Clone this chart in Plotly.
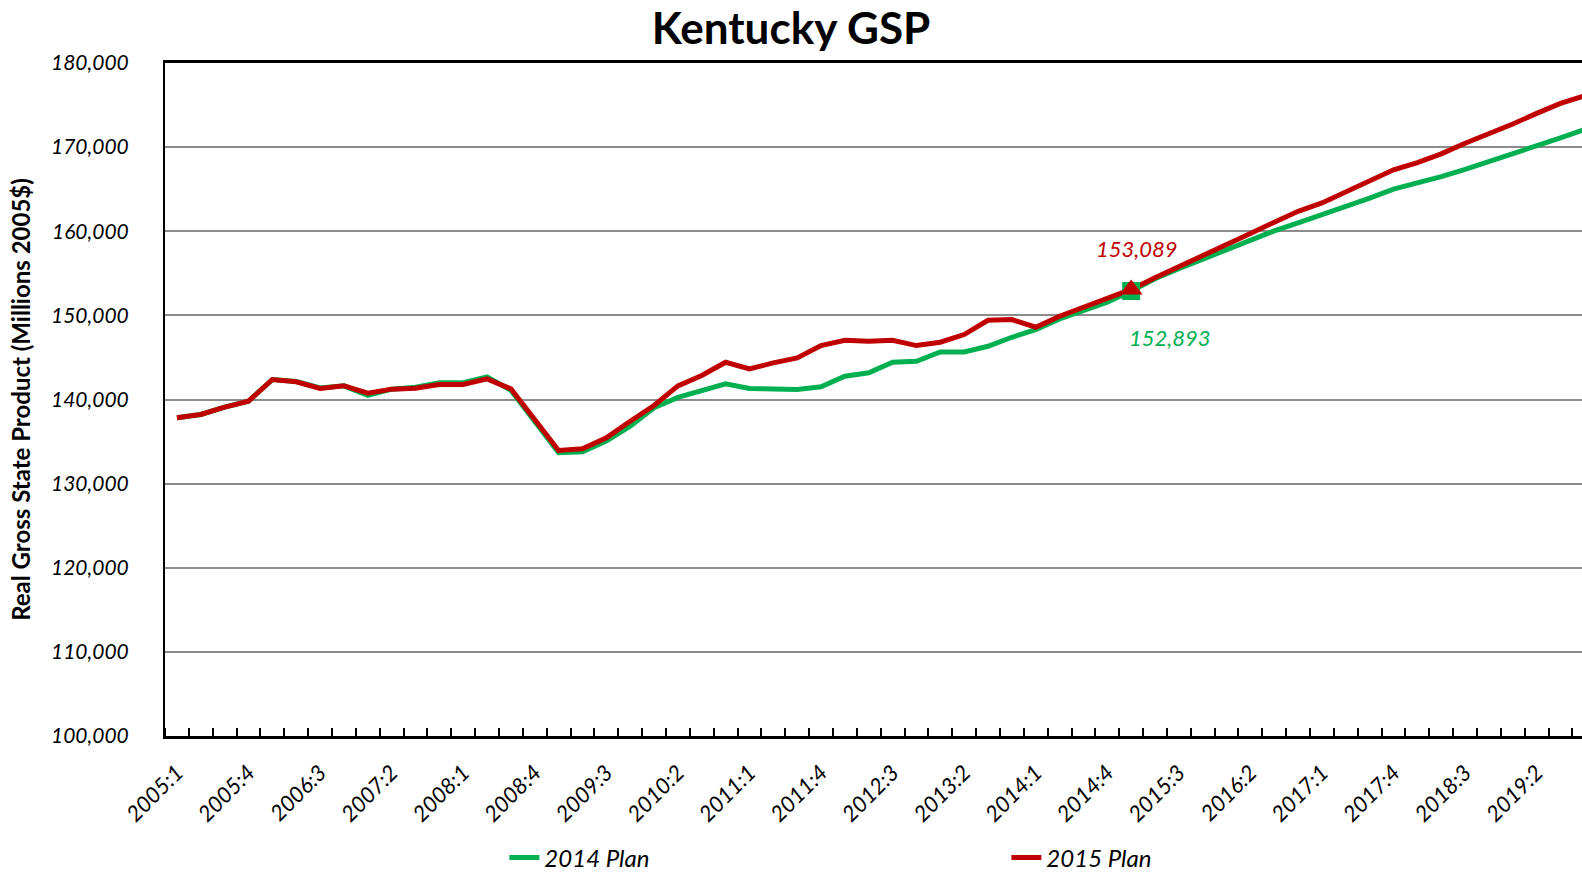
import plotly.graph_objects as go

# Quarterly periods, 2005:1 through 2019:4
quarters = [
    "2005:1", "2005:2", "2005:3", "2005:4", "2006:1", "2006:2", "2006:3", "2006:4",
    "2007:1", "2007:2", "2007:3", "2007:4", "2008:1", "2008:2", "2008:3", "2008:4",
    "2009:1", "2009:2", "2009:3", "2009:4", "2010:1", "2010:2", "2010:3", "2010:4",
    "2011:1", "2011:2", "2011:3", "2011:4", "2012:1", "2012:2", "2012:3", "2012:4",
    "2013:1", "2013:2", "2013:3", "2013:4", "2014:1", "2014:2", "2014:3", "2014:4",
    "2015:1", "2015:2", "2015:3", "2015:4", "2016:1", "2016:2", "2016:3", "2016:4",
    "2017:1", "2017:2", "2017:3", "2017:4", "2018:1", "2018:2", "2018:3", "2018:4",
    "2019:1", "2019:2", "2019:3", "2019:4",
]

# Real GSP, millions of 2005 dollars
plan_2014 = [
    137830, 138220, 139090, 139800, 142380, 142150, 141380, 141620,
    140480, 141230, 141450, 141990, 141990, 142690, 141100, 137350,
    133670, 133800, 135060, 136830, 139010, 140250, 140990, 141860,
    141300, 141270, 141190, 141510, 142770, 143170, 144430, 144550,
    145660, 145660, 146330, 147400, 148310, 149580, 150610, 151560,
    152893, 154350, 155550, 156700, 157850, 158950, 160050, 161000,
    161950, 162950, 163950, 165000, 165700, 166500, 167350, 168250,
    169150, 170100, 171100, 172100,
]
plan_2015 = [
    137830, 138220, 139090, 139800, 142380, 142100, 141310, 141620,
    140750, 141230, 141340, 141780, 141780, 142450, 141270, 137620,
    133940, 134140, 135450, 137420, 139290, 141620, 142850, 144430,
    143640, 144350, 144950, 146410, 147040, 146920, 147040, 146410,
    146810, 147720, 149420, 149500, 148590, 149900, 150960, 151960,
    153089, 154480, 155790, 156970, 158310, 159730, 161070, 162370,
    163360, 164620, 165920, 167300, 168170, 169200, 170460, 171560,
    172750, 174010, 175200, 176100,
]

# Highlighted period and labelled x positions
highlight = "2015:1"
label_every = 3

GREEN = "#00B050"
RED = "#C00000"
FONT = "Lato"

idx = list(range(len(quarters)))
hi = quarters.index(highlight)
tick_idx = idx[::label_every]
tick_txt = [quarters[i] for i in tick_idx]

fig = go.Figure()
fig.add_trace(go.Scatter(x=idx, y=plan_2014, mode="lines", name="2014 Plan",
                         line=dict(color=GREEN, width=5)))
fig.add_trace(go.Scatter(x=idx, y=plan_2015, mode="lines", name="2015 Plan",
                         line=dict(color=RED, width=5)))
fig.add_trace(go.Scatter(x=[hi], y=[plan_2014[hi]], mode="markers", showlegend=False,
                         marker=dict(symbol="square", size=18, color=GREEN)))
fig.add_trace(go.Scatter(x=[hi], y=[plan_2015[hi]], mode="markers", showlegend=False,
                         marker=dict(symbol="triangle-up", size=20, color=RED)))

fig.add_annotation(x=hi, y=plan_2015[hi], text=f"{plan_2015[hi]:,}", showarrow=False,
                   xshift=6, yshift=41,
                   font=dict(family=FONT, size=22, color=RED, style="italic"))
fig.add_annotation(x=hi, y=plan_2014[hi], text=f"{plan_2014[hi]:,}", showarrow=False,
                   xshift=39, yshift=-46,
                   font=dict(family=FONT, size=22, color=GREEN, style="italic"))

fig.update_layout(
    width=1582, height=874,
    margin=dict(l=165, r=0, t=63, b=138, pad=0, autoexpand=False),
    paper_bgcolor="white", plot_bgcolor="white",
    title=dict(text="<b>Kentucky GSP</b>", x=0.5, xanchor="center", y=0.967, yanchor="middle",
               font=dict(family=FONT, size=44, color="black")),
    showlegend=True,
    legend=dict(orientation="h", x=0.2395, xanchor="left", y=-0.181, yanchor="middle",
                entrywidth=457, entrywidthmode="pixels",
                font=dict(family=FONT, size=24, color="black", style="italic")),
    xaxis=dict(
        range=[-0.5, 58.9], tickmode="array", tickvals=tick_idx, ticktext=tick_txt,
        tickangle=-45, ticks="", showgrid=False, zeroline=False,
        showline=True, linecolor="black", linewidth=3, mirror=True,
        ticklabelstandoff=12,
        tickfont=dict(family=FONT, size=22, color="black", style="italic"),
        minor=dict(tickmode="linear", tick0=-0.5, dtick=1, ticks="inside",
                   ticklen=8, tickwidth=2, tickcolor="black", showgrid=False),
    ),
    yaxis=dict(
        range=[100000, 180000], dtick=10000, tickformat=",d",
        showgrid=True, gridcolor="#8c8c8c", gridwidth=2, zeroline=False,
        showline=True, linecolor="black", linewidth=2, ticks="",
        ticklabelstandoff=30,
        tickfont=dict(family=FONT, size=21, color="black", style="italic"),
        title=dict(text="<b>Real Gross State Product (Millions 2005$)</b>", standoff=14,
                   font=dict(family=FONT, size=24, color="black")),
    ),
)

fig.write_html("out.html")
